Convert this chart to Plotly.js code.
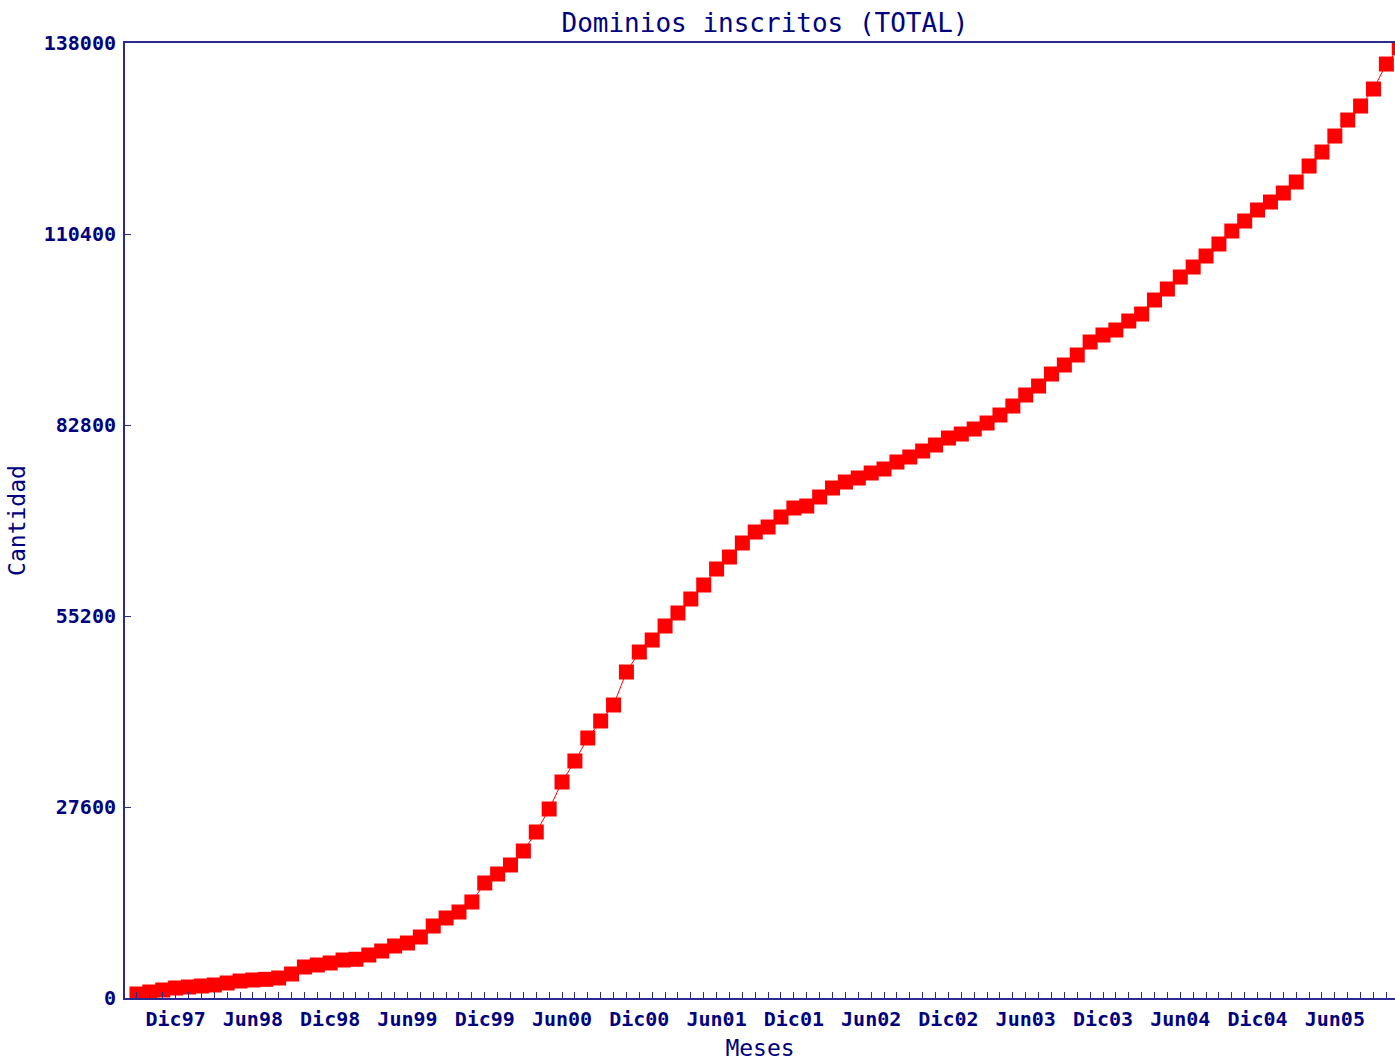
<!DOCTYPE html>
<html>
<head>
<meta charset="utf-8">
<script src="https://cdn.plot.ly/plotly-3.0.1.min.js"></script>
<style>html,body{margin:0;padding:0;background:#fff;}#chart{width:1395px;height:1061px;}</style>
</head>
<body>
<div id="chart"></div>
<script>
const months = [
  'Sep97','Oct97','Nov97','Dic97',
  'Ene98','Feb98','Mar98','Abr98','May98','Jun98','Jul98','Ago98','Sep98','Oct98','Nov98','Dic98',
  'Ene99','Feb99','Mar99','Abr99','May99','Jun99','Jul99','Ago99','Sep99','Oct99','Nov99','Dic99',
  'Ene00','Feb00','Mar00','Abr00','May00','Jun00','Jul00','Ago00','Sep00','Oct00','Nov00','Dic00',
  'Ene01','Feb01','Mar01','Abr01','May01','Jun01','Jul01','Ago01','Sep01','Oct01','Nov01','Dic01',
  'Ene02','Feb02','Mar02','Abr02','May02','Jun02','Jul02','Ago02','Sep02','Oct02','Nov02','Dic02',
  'Ene03','Feb03','Mar03','Abr03','May03','Jun03','Jul03','Ago03','Sep03','Oct03','Nov03','Dic03',
  'Ene04','Feb04','Mar04','Abr04','May04','Jun04','Jul04','Ago04','Sep04','Oct04','Nov04','Dic04',
  'Ene05','Feb05','Mar05','Abr05','May05','Jun05','Jul05','Ago05','Sep05','Oct05','Nov05'
];
const dominios = [
  578, 867, 1156, 1445,
  1590, 1734, 1879, 2168, 2457, 2601, 2700, 2890, 3468, 4480, 4769, 5058,
  5491, 5600, 6214, 6792, 7514, 7948, 8815, 10404, 11560, 12427, 13872, 16618,
  17918, 19219, 21242, 23987, 27311, 31212, 34247, 37571, 40027, 42339, 47107, 49997,
  51731, 53754, 55633, 57656, 59679, 61991, 63725, 65748, 67337, 68060, 69505, 70805,
  71094, 72395, 73695, 74562, 75140, 75863, 76441, 77452, 78175, 79042, 79909, 80920,
  81498, 82221, 83088, 84244, 85544, 87134, 88434, 90168, 91469, 92914, 94792, 95804,
  96526, 97827, 98838, 100861, 102451, 104185, 105630, 107219, 108953, 110832, 112277, 113866,
  115022, 116323, 117912, 120224, 122247, 124559, 126871, 128894, 131351, 134963, 137300
];
const xTickLabels = ['Dic97','Jun98','Dic98','Jun99','Dic99','Jun00','Dic00','Jun01','Dic01',
  'Jun02','Dic02','Jun03','Dic03','Jun04','Dic04','Jun05'];
const yTickVals = [0, 27600, 55200, 82800, 110400, 138000];
const yTickText = ['0','27600','55200','82800','110400','138000'];

const navy = '#000080';
const axisCol = '#2a2a90';
const mono = 'DejaVu Sans Mono, Liberation Mono, monospace';

const trace = {
  type: 'scatter',
  mode: 'lines+markers',
  x: months,
  y: dominios,
  line: {color: '#ff0000', width: 1},
  marker: {symbol: 'square', size: 15, color: '#ff0000', line: {width: 0}},
  hoverinfo: 'x+y'
};

const layout = {
  width: 1395,
  height: 1061,
  margin: {l: 125, r: 0, t: 43, b: 63, pad: 0},
  paper_bgcolor: '#ffffff',
  plot_bgcolor: '#ffffff',
  showlegend: false,
  title: {
    text: 'Dominios inscritos (TOTAL)',
    font: {family: mono, size: 26, color: navy},
    xref: 'container', x: 765/1395, xanchor: 'center',
    yref: 'container', y: 1 - 23/1061, yanchor: 'middle'
  },
  xaxis: {
    type: 'category',
    categoryorder: 'array',
    categoryarray: months,
    range: [-0.93, 97.67],
    tickmode: 'array',
    tickvals: months,
    ticktext: months.map(m => xTickLabels.includes(m) ? m : ''),
    ticks: 'inside',
    ticklen: 6,
    tickwidth: 1,
    tickcolor: axisCol,
    showline: true,
    linecolor: axisCol,
    linewidth: 2,
    mirror: true,
    showgrid: false,
    zeroline: false,
    tickangle: 0,
    ticklabelstandoff: 2,
    tickfont: {family: mono, size: 20, color: navy, weight: 'bold'},
    title: {text: 'Meses', font: {family: mono, size: 23, color: navy}, standoff: 13},
    automargin: false
  },
  yaxis: {
    range: [0, 138000],
    tickmode: 'array',
    tickvals: yTickVals,
    ticktext: yTickText,
    ticks: 'inside',
    ticklen: 6,
    tickwidth: 1,
    tickcolor: axisCol,
    showline: true,
    linecolor: axisCol,
    linewidth: 2,
    showgrid: false,
    zeroline: false,
    ticklabelstandoff: 3,
    tickfont: {family: mono, size: 20, color: navy, weight: 'bold'},
    title: {text: 'Cantidad', font: {family: mono, size: 23, color: navy}, standoff: 12},
    automargin: false
  }
};

Plotly.newPlot('chart', [trace], layout, {displayModeBar: false, staticPlot: true});
</script>
</body>
</html>
